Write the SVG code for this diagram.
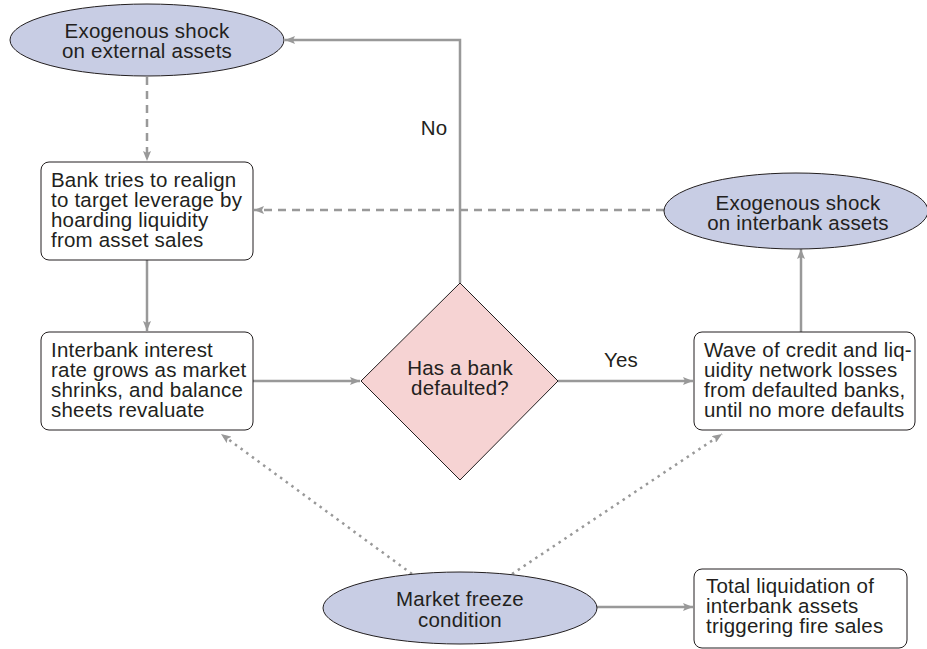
<svg xmlns="http://www.w3.org/2000/svg" width="927" height="649" viewBox="0 0 927 649">
<defs>
<marker id="ah" viewBox="0 0 10 8" refX="10" refY="4" markerWidth="10" markerHeight="8" markerUnits="userSpaceOnUse" orient="auto">
<path d="M0,0 L10,4 L0,8 L2,4 Z" fill="#999"/>
</marker>
<style>
.t{font-family:"Liberation Sans",Arial,Helvetica,sans-serif;font-size:20.5px;fill:#231f20;letter-spacing:0.2px}
.m{text-anchor:middle}
.ell{fill:#c8cde4;stroke:#231f20;stroke-width:1}
.box{fill:#fff;stroke:#231f20;stroke-width:1}
.dia{fill:#f6d3d3;stroke:#231f20;stroke-width:1}
.c{fill:none;stroke:#999;stroke-width:2.5}
.dash{stroke-dasharray:8 6}
.dot{stroke-dasharray:2.5 4.5}
</style>
</defs>
<g id="connectors">
<path class="c dash" d="M147,77 V161" marker-end="url(#ah)"/>
<path class="c dash" d="M664,210 H254" marker-end="url(#ah)"/>
<path class="c" d="M147,260 V331" marker-end="url(#ah)"/>
<path class="c" d="M253,381 H360" marker-end="url(#ah)"/>
<path class="c" d="M460,283 V40 H285" marker-end="url(#ah)"/>
<path class="c" d="M558,381 H693" marker-end="url(#ah)"/>
<path class="c" d="M801,332 V249" marker-end="url(#ah)"/>
<path class="c dot" d="M412,574 L221,434" marker-end="url(#ah)"/>
<path class="c dot" d="M512,574 L722,434" marker-end="url(#ah)"/>
<path class="c" d="M596,607 H693" marker-end="url(#ah)"/>
<text class="t m" x="434" y="135">No</text>
<text class="t m" x="621" y="367">Yes</text>
</g>
<g id="shock-external">
<ellipse class="ell" cx="147" cy="40" rx="137" ry="36"/>
<text class="t m" x="147" y="38">Exogenous shock</text>
<text class="t m" x="147" y="58">on external assets</text>
</g>
<g id="realign">
<rect class="box" x="41" y="162" width="212" height="98" rx="8"/>
<text class="t" x="51" y="187">Bank tries to realign</text>
<text class="t" x="51" y="207">to target leverage by</text>
<text class="t" x="51" y="227">hoarding liquidity</text>
<text class="t" x="51" y="247">from asset sales</text>
</g>
<g id="interest">
<rect class="box" x="41" y="332" width="212" height="98" rx="8"/>
<text class="t" x="51" y="357">Interbank interest</text>
<text class="t" x="51" y="377">rate grows as market</text>
<text class="t" x="51" y="397">shrinks, and balance</text>
<text class="t" x="51" y="417">sheets revaluate</text>
</g>
<g id="defaulted">
<polygon class="dia" points="460,283 558,381 460,480 361,381"/>
<text class="t m" x="460" y="375">Has a bank</text>
<text class="t m" x="460" y="395">defaulted?</text>
</g>
<g id="wave">
<rect class="box" x="694" y="332" width="221" height="98" rx="8"/>
<text class="t" x="704" y="357">Wave of credit and liq-</text>
<text class="t" x="704" y="377">uidity network losses</text>
<text class="t" x="704" y="397">from defaulted banks,</text>
<text class="t" x="704" y="417">until no more defaults</text>
</g>
<g id="shock-interbank">
<ellipse class="ell" cx="796" cy="211" rx="132" ry="38"/>
<text class="t m" x="798" y="210">Exogenous shock</text>
<text class="t m" x="798" y="230">on interbank assets</text>
</g>
<g id="freeze">
<ellipse class="ell" cx="460" cy="608" rx="137" ry="36"/>
<text class="t m" x="460" y="606">Market freeze</text>
<text class="t m" x="460" y="627">condition</text>
</g>
<g id="liquidation">
<rect class="box" x="694" y="569" width="213" height="79" rx="8"/>
<text class="t" x="706" y="593">Total liquidation of</text>
<text class="t" x="706" y="613">interbank assets</text>
<text class="t" x="706" y="633">triggering fire sales</text>
</g>
</svg>
